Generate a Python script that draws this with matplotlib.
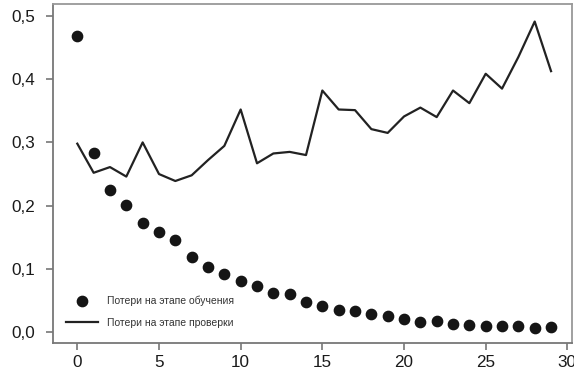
import numpy as np
import matplotlib
matplotlib.use("Agg")
import matplotlib.pyplot as plt
from matplotlib.ticker import FuncFormatter

plt.rcParams["font.family"] = ["Liberation Sans", "DejaVu Sans"]

epochs = list(range(30))
train_loss = [0.468, 0.284, 0.225, 0.201, 0.172, 0.159, 0.146, 0.119, 0.103, 0.092,
              0.081, 0.0735, 0.0614, 0.0605, 0.048, 0.041, 0.035, 0.033, 0.029, 0.025,
              0.021, 0.016, 0.018, 0.0137, 0.012, 0.0095, 0.0095, 0.0095, 0.007, 0.008]
val_loss = [0.298, 0.252, 0.261, 0.246, 0.300, 0.250, 0.239, 0.248, 0.272, 0.2945,
            0.352, 0.267, 0.2825, 0.285, 0.280, 0.382, 0.352, 0.351, 0.321, 0.315,
            0.341, 0.355, 0.340, 0.382, 0.362, 0.4085, 0.385, 0.435, 0.491, 0.4126]
train_label = "Потери на этапе обучения"
val_label = "Потери на этапе проверки"

fig = plt.figure(figsize=(5.74, 3.72), dpi=100)
ax = fig.add_axes([0.092, 0.078, 0.905, 0.91])

ax.scatter(epochs, train_loss, s=55, color="#151515", label=train_label, zorder=3)
ax.plot(epochs, val_loss, color="#222222", lw=1.6, label=val_label)

ax.set_xlim(-1.5, 30.3)
ax.set_ylim(-0.017, 0.518)
ax.set_xticks([0, 5, 10, 15, 20, 25, 30])
ax.set_yticks([0.0, 0.1, 0.2, 0.3, 0.4, 0.5])
ax.yaxis.set_major_formatter(FuncFormatter(lambda v, p: f"{v:.1f}".replace(".", ",")))

for side in ["left", "bottom"]:
    ax.spines[side].set_color("#777777")
    ax.spines[side].set_linewidth(1.3)
for side in ["top", "right"]:
    ax.spines[side].set_color("#999999")
    ax.spines[side].set_linewidth(1.3)
ax.tick_params(axis="both", colors="#777777", labelcolor="#1a1a1a",
               labelsize=12.3, length=5, width=1.2, direction="out")
ax.tick_params(axis="y", pad=8)

ax.legend(loc="lower left", bbox_to_anchor=(0.008, 0.018), frameon=False,
          fontsize=7.5, handlelength=3.0, handletextpad=0.9, labelspacing=1.15,
          borderaxespad=0.5, labelcolor="#333333")

fig.savefig("out.png", dpi=100)
